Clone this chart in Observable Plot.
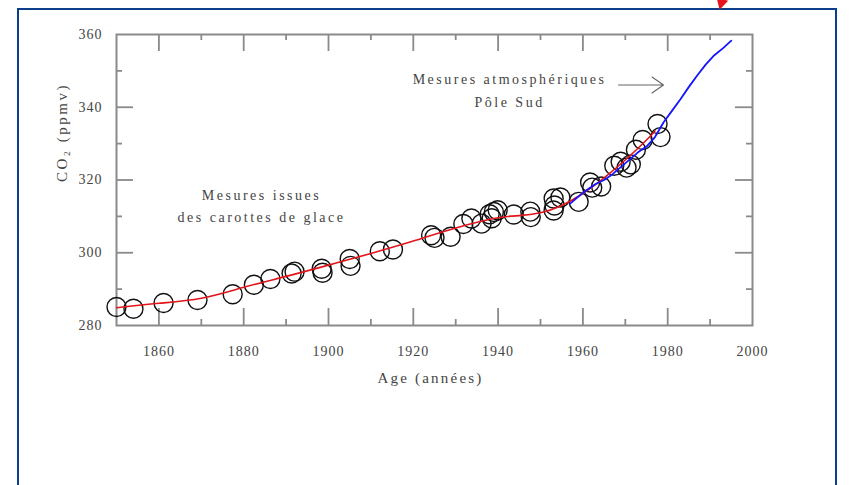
<!DOCTYPE html>
<html><head><meta charset="utf-8">
<script src="https://cdn.jsdelivr.net/npm/d3@7"></script>
<script src="https://cdn.jsdelivr.net/npm/@observablehq/plot@0.6"></script>
<style>
html,body{margin:0;padding:0;background:#fff;width:850px;height:485px;overflow:hidden;}
#wrap{position:relative;width:850px;height:485px;}
#chart{position:absolute;left:0;top:0;}
#box{position:absolute;left:17px;top:8px;width:820px;height:500px;border:2px solid #0b3f8c;box-sizing:border-box;pointer-events:none;}
#redarrow{position:absolute;left:715px;top:-1px;width:0;height:0;border-left:6px solid transparent;border-right:6px solid transparent;border-top:11px solid #e8141b;transform:rotate(15deg);}
</style></head><body><div id="wrap"><div id="chart"></div><div id="box"></div><div id="redarrow"></div></div>
<script>
// Ice-core measurements (circles)
const iceYears = [1850.0,1854.0,1861.1,1869.1,1877.4,1882.4,1886.3,1891.3,1892.0,1898.4,1898.6,1905.0,1905.2,1912.1,1915.2,1924.2,1925.0,1928.8,1931.8,1933.7,1936.1,1938.0,1938.5,1939.0,1939.9,1943.7,1947.6,1947.7,1953.1,1953.3,1953.1,1954.7,1959.0,1961.7,1962.2,1964.3,1967.4,1968.9,1970.3,1971.3,1972.5,1974.1,1977.6,1978.3];
const iceCO2   = [285.1,284.6,286.2,287.0,288.6,291.2,292.8,294.3,294.8,295.6,294.5,298.3,296.4,300.4,300.9,304.8,304.1,304.4,307.9,309.4,308.0,310.6,309.5,311.2,311.7,310.5,311.3,309.8,314.9,313.0,311.6,315.2,314.0,319.3,317.9,318.2,323.9,325.0,323.4,324.3,328.3,331.0,335.4,331.8];
// Smooth fit through the ice-core data (red)
const fitYears = [1850,1860,1870,1880,1890,1900,1910,1920,1930,1940,1945,1950,1955,1960,1965,1970,1975,1977];
const fitCO2   = [284.9,286.1,287.5,290.5,293.5,296.6,299.8,303.2,306.8,309.6,310.2,311.0,313.0,316.3,320.6,325.5,331.0,333.5];
// Atmospheric measurements, South Pole (blue)
const poleYears = [1957,1959,1961,1963,1965,1967,1969,1971,1973,1975,1977,1979,1981,1983,1985,1987,1989,1991,1993,1995];
const poleCO2   = [313.5,315.5,317.3,318.9,320.0,321.6,323.6,325.6,327.6,329.2,331.8,335.8,339.0,342.2,345.6,348.8,351.8,354.3,356.2,358.3];
// Axis ticks and labels
const xTickLabels = [1860,1880,1900,1920,1940,1960,1980,2000];
const yTickLabels = [280,300,320,340,360];
const xMajor = [1860,1880,1900,1920,1940,1960,1980];
const xMinor = [1870,1890,1910,1930,1950,1970,1990];
const yMajor = [300,320,340];
const yMinor = [290,310,330,350];
const xLabel = "Age (années)";
const yLabel = "CO\u2082 (ppmv)";
const noteIce = "Mesures issues\ndes carottes de glace";
const notePole = "Mesures atmosphériques\nPôle Sud";

const ice = iceYears.map((x, i) => ({x, y: iceCO2[i]}));
const fit = fitYears.map((x, i) => ({x, y: fitCO2[i]}));
const pole = poleYears.map((x, i) => ({x, y: poleCO2[i]}));

const W = 850, H = 485, mt = 34, mb = 160, ml = 116, mr = 98;
const ph = H - mt - mb, pw = W - ml - mr;
const MAJ = 17, MIN = 6;
const axisColor = "#8a8a8a", textColor = "#444";
const serif = "'Liberation Serif', 'Times New Roman', serif";

const plot = Plot.plot({
  width: W, height: H,
  marginTop: mt, marginBottom: mb, marginLeft: ml, marginRight: mr,
  style: {background: "transparent", fontFamily: serif},
  x: {domain: [1850, 2000], axis: null},
  y: {domain: [280, 360], axis: null},
  marks: [
    // ticks, all four sides, pointing inward
    Plot.tickX(xMajor, {x: d => d, insetTop: ph - MAJ, stroke: axisColor, strokeWidth: 1.8}),
    Plot.tickX(xMinor, {x: d => d, insetTop: ph - MIN, stroke: axisColor, strokeWidth: 1.8}),
    Plot.tickX(xMajor, {x: d => d, insetBottom: ph - MAJ, stroke: axisColor, strokeWidth: 1.8}),
    Plot.tickX(xMinor, {x: d => d, insetBottom: ph - MIN, stroke: axisColor, strokeWidth: 1.8}),
    Plot.tickY(yMajor, {y: d => d, insetRight: pw - MAJ, stroke: axisColor, strokeWidth: 1.8}),
    Plot.tickY(yMinor, {y: d => d, insetRight: pw - MIN, stroke: axisColor, strokeWidth: 1.8}),
    Plot.tickY(yMajor, {y: d => d, insetLeft: pw - MAJ, stroke: axisColor, strokeWidth: 1.8}),
    Plot.tickY(yMinor, {y: d => d, insetLeft: pw - MIN, stroke: axisColor, strokeWidth: 1.8}),
    Plot.frame({stroke: axisColor, strokeWidth: 2}),
    // tick labels
    Plot.text(xTickLabels, {x: d => d, frameAnchor: "bottom", dy: 26, text: d => String(d), fontSize: 14, fill: textColor, lineAnchor: "middle", textAnchor: "middle"}),
    Plot.text(yTickLabels, {y: d => d, frameAnchor: "left", dx: -14, text: d => String(d), fontSize: 14, fill: textColor, textAnchor: "end", lineAnchor: "middle"}),
    // axis titles
    Plot.text([xLabel], {frameAnchor: "bottom", dy: 53, dx: -4, text: d => d, fontSize: 15, fill: textColor, lineAnchor: "middle"}),
    Plot.text([yLabel], {frameAnchor: "left", dx: -54, dy: 2, rotate: -90, text: d => d, fontSize: 15, fill: textColor, lineAnchor: "middle"}),
    // data
    Plot.dot(ice, {x: "x", y: "y", r: 9.5, stroke: "#111", strokeWidth: 1.4, fill: "none"}),
    Plot.line(fit, {x: "x", y: "y", stroke: "#e3141b", strokeWidth: 1.6, curve: "natural"}),
    Plot.line(pole, {x: "x", y: "y", stroke: "#1414ff", strokeWidth: 1.8, curve: "linear"}),
    // annotations
    Plot.text([noteIce], {x: 1884.2, y: 313.5, text: d => d, fontSize: 14, lineHeight: 1.6, fill: textColor, lineAnchor: "middle"}),
    Plot.text([notePole], {x: 1942.7, y: 345.2, text: d => d, fontSize: 14, lineHeight: 1.6, fill: textColor, lineAnchor: "middle"}),
    Plot.arrow([0], {x1: 1968.4, y1: 346.1, x2: 1979.0, y2: 346.1, stroke: "#666", strokeWidth: 1.1, headLength: 19, headAngle: 70})
  ]
});
document.getElementById("chart").appendChild(plot);
// letter spacing per text mark (in mark order)
const spacing = [1, 1, 2.2, 2.5, 2.5, 2.5];
d3.select(plot).selectAll('g[aria-label="text"]').each(function(d, i) {
  d3.select(this).style("letter-spacing", (spacing[i] ?? 0) + "px");
});
</script>
</body></html>
